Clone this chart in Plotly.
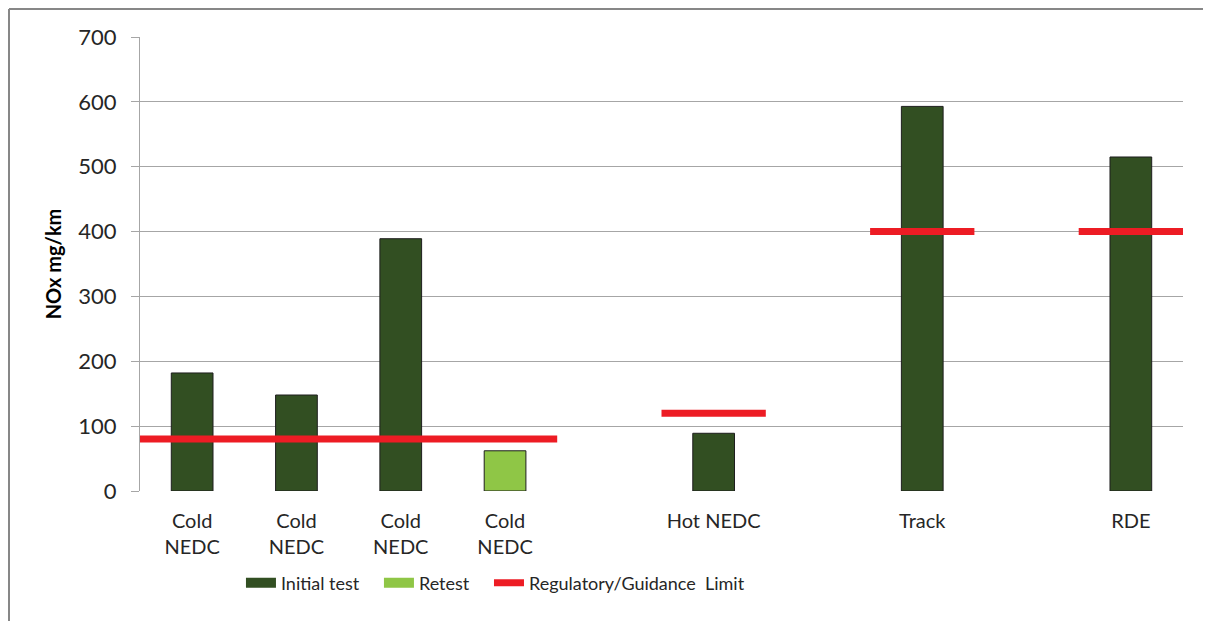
import plotly.graph_objects as go

# ---- data ----
categories = ["Cold<br>NEDC", "Cold<br>NEDC", "Cold<br>NEDC", "Cold<br>NEDC", "",
              "Hot NEDC", "", "Track", "", "RDE"]
initial_test = [182, 148, 389, None, None, 89, None, 593, None, 515]
retest = [None, None, None, 62, None, None, None, None, None, None]
limit = [80, 80, 80, 80, None, 120, None, 400, None, 400]
y_ticks = [0, 100, 200, 300, 400, 500, 600, 700]

slots = list(range(len(categories)))

# limit segments spanning each category slot (merged when contiguous & equal)
lx, ly = [], []
prev = None
for i, v in enumerate(limit):
    if v is None:
        prev = None
        continue
    if prev is not None and prev == v:
        lx.append(i + 0.5); ly.append(v)
    else:
        if lx:
            lx.append(None); ly.append(None)
        lx += [i - 0.5, i + 0.5]; ly += [v, v]
    prev = v

FONT = "Lato"
DARK = "#324f22"
LIGHT = "#8fc646"
RED = "#ed1c24"

fig = go.Figure()
fig.add_trace(go.Bar(x=slots, y=initial_test, width=0.4, name="Initial test", showlegend=False,
                     marker=dict(color=DARK, line=dict(color="#1e1e1e", width=1))))
fig.add_trace(go.Bar(x=slots, y=retest, width=0.4, name="Retest", showlegend=False,
                     marker=dict(color=LIGHT, line=dict(color="#1e1e1e", width=1))))
fig.add_trace(go.Scatter(x=lx, y=ly, mode="lines", name="Regulatory/Guidance  Limit",
                         showlegend=False, line=dict(color=RED, width=7)))
# legend entries (wide swatches like the original), each in its own legend box
fig.add_trace(go.Scatter(x=[None], y=[None], mode="lines", name="Initial test",
                         line=dict(color=DARK, width=12), legend="legend"))
fig.add_trace(go.Scatter(x=[None], y=[None], mode="lines", name="Retest",
                         line=dict(color=LIGHT, width=12), legend="legend2"))
fig.add_trace(go.Scatter(x=[None], y=[None], mode="lines", name="Regulatory/Guidance  Limit",
                         line=dict(color=RED, width=7), legend="legend3"))

PL, PT, PW, PH = 132, 29, 1043, 454
leg_common = dict(orientation="h", xanchor="left", y=-0.2026, yanchor="middle",
                  font=dict(size=18, family=FONT, color="#262626"), itemwidth=30,
                  bgcolor="rgba(0,0,0,0)")
fig.update_layout(
    width=1203, height=613,
    margin=dict(l=PL, r=1203 - PL - PW, t=PT, b=613 - PT - PH),
    paper_bgcolor="white", plot_bgcolor="white",
    barmode="overlay",
    font=dict(family=FONT, color="#262626"),
    showlegend=True,
    legend=dict(x=0.0968, **leg_common),
    legend2=dict(x=0.2291, **leg_common),
    legend3=dict(x=0.3346, **leg_common),
    xaxis=dict(range=[-0.5, len(categories) - 0.5], tickmode="array",
               tickvals=slots, ticktext=categories, ticks="",
               tickfont=dict(size=20, family=FONT, color="#262626"),
               showgrid=False, zeroline=False, showline=False,
               ticklabelstandoff=16),
    yaxis=dict(range=[0, 700], tickmode="array", tickvals=y_ticks,
               tickfont=dict(size=22, family=FONT, color="#262626"),
               showgrid=True, gridcolor="#a6a6a6", gridwidth=1.3,
               zeroline=False, showline=True, linecolor="#a6a6a6", linewidth=1.3,
               ticks="outside", ticklen=8, tickcolor="#a6a6a6", tickwidth=1.3,
               ticklabelstandoff=10,
               title=dict(text="<b>NOx mg/km</b>", font=dict(size=20, family=FONT, color="black"),
                          standoff=11)),
    shapes=[
        dict(type="line", xref="paper", yref="paper",
             x0=(1 - PL) / PW, x1=1.1, y0=1 + (PT - 1) / PH, y1=1 + (PT - 1) / PH,
             line=dict(color="#878787", width=2)),
        dict(type="line", xref="paper", yref="paper",
             x0=(1 - PL) / PW, x1=(1 - PL) / PW, y0=1 + (PT - 1) / PH, y1=-0.4,
             line=dict(color="#878787", width=2)),
    ],
)

fig.write_html("out.html")
